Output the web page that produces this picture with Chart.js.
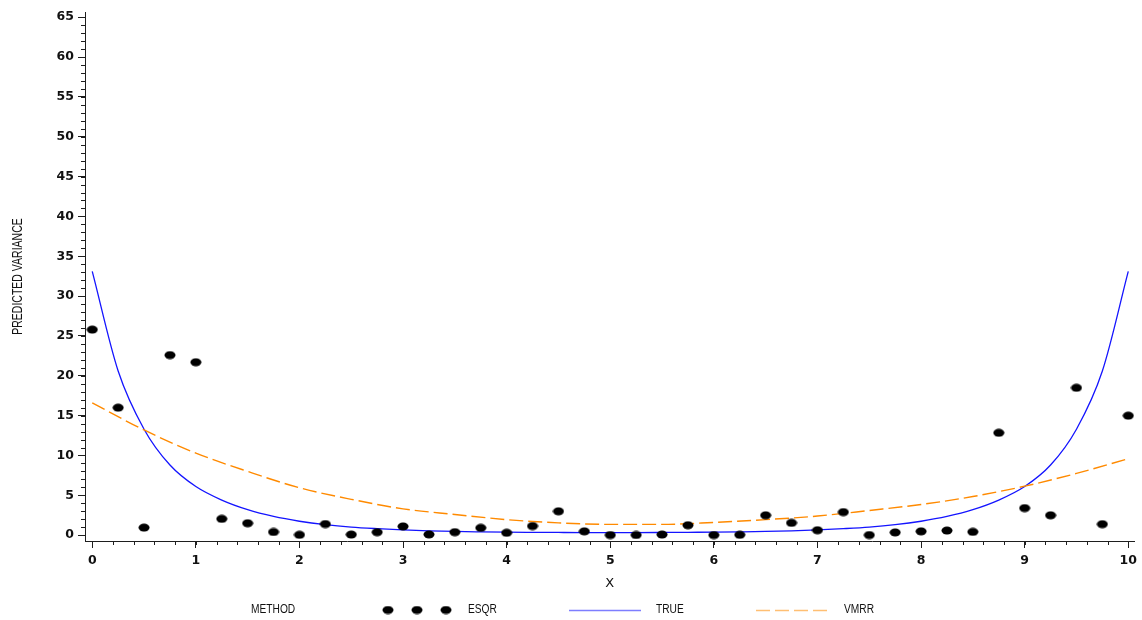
<!DOCTYPE html>
<html>
<head>
<meta charset="utf-8">
<title>Predicted variance by method</title>
<script src="https://cdn.jsdelivr.net/npm/chart.js@4.4.1/dist/chart.umd.min.js"></script>
<style>
  html, body { margin: 0; padding: 0; background: #ffffff; }
  #wrap { width: 1142px; height: 620px; }
</style>
</head>
<body>
<div id="wrap"><canvas id="c" width="1142" height="620"></canvas></div>
<script>
// ---- data ----
const esqrX = [0, 0.25, 0.5, 0.75, 1, 1.25, 1.5, 1.75, 2, 2.25, 2.5, 2.75, 3, 3.25, 3.5, 3.75, 4, 4.25, 4.5, 4.75,
               5, 5.25, 5.5, 5.75, 6, 6.25, 6.5, 6.75, 7, 7.25, 7.5, 7.75, 8, 8.25, 8.5, 8.75, 9, 9.25, 9.5, 9.75, 10];
const esqrY = [25.8, 16.0, 0.95, 22.6, 21.7, 2.05, 1.5, 0.4, 0.05, 1.4, 0.08, 0.38, 1.1, 0.1, 0.38, 0.92, 0.3, 1.15, 3.0, 0.48,
               0.02, 0.03, 0.08, 1.25, 0.02, 0.05, 2.5, 1.55, 0.62, 2.9, 0.02, 0.35, 0.48, 0.58, 0.42, 12.85, 3.4, 2.5, 18.5, 1.38, 15.0];

const trueX = esqrX;
const trueY = [33.1, 20.6, 13.3, 8.8, 6.1, 4.4, 3.2, 2.35, 1.75, 1.32, 1.02, 0.82, 0.66, 0.55, 0.47, 0.42, 0.38, 0.36, 0.34, 0.33,
               0.33, 0.33, 0.34, 0.36, 0.38, 0.42, 0.47, 0.55, 0.66, 0.82, 1.02, 1.32, 1.75, 2.35, 3.2, 4.4, 6.1, 8.8, 13.3, 20.6, 33.1];

const vmrrX = [0, 0.5, 1, 1.5, 2, 2.5, 3, 3.5, 4, 4.5, 5, 5.5, 6, 6.5, 7, 7.5, 8, 8.5, 9, 9.5, 10];
const vmrrY = [16.6, 13.2, 10.3, 8.0, 5.95, 4.5, 3.3, 2.6, 1.95, 1.55, 1.35, 1.35, 1.6, 1.95, 2.4, 3.1, 3.85, 4.85, 6.15, 7.75, 9.6];

const xTickValues = [0, 1, 2, 3, 4, 5, 6, 7, 8, 9, 10];
const yTickValues = [0, 5, 10, 15, 20, 25, 30, 35, 40, 45, 50, 55, 60, 65];
const xMinorStep = 0.2;
const yMinorStep = 1;

const seriesNames = ['ESQR', 'TRUE', 'VMRR'];
const legendTitle = 'METHOD';
const xTitle = 'X';
const yTitle = 'PREDICTED VARIANCE';

// ---- styles ----
const AXIS = '#1e1e1e';
const TEXT = '#111111';
const BLUE = '#1414ff';
const ORANGE = '#ff8a00';
const DASH = [14, 5];
const tickFont = { family: '"DejaVu Sans", Verdana, sans-serif', size: 12.5, weight: 'bold' };
const narrowFamily = '"Liberation Sans", Arial, sans-serif';

// filled oval marker
function ovalMarker() {
  const c = document.createElement('canvas');
  c.width = 12; c.height = 9;
  const g = c.getContext('2d');
  g.fillStyle = '#000';
  g.beginPath();
  g.ellipse(6, 4.5, 5.5, 4, 0, 0, Math.PI * 2);
  g.fill();
  return c;
}
const marker = ovalMarker();

const pairs = (xs, ys) => xs.map((x, i) => ({ x: x, y: ys[i] }));

// text squeezed along its baseline, giving a condensed face
function condensedText(ctx, text, x, y, size, squeeze, rotate, align) {
  ctx.save();
  ctx.translate(x, y);
  if (rotate) ctx.rotate(-Math.PI / 2);
  ctx.scale(squeeze, 1);
  ctx.font = size + 'px ' + narrowFamily;
  ctx.fillStyle = TEXT;
  ctx.textAlign = align;
  ctx.textBaseline = 'middle';
  ctx.fillText(text, 0, 0);
  ctx.restore();
}

// minor tick marks along both axes
const minorTicks = {
  id: 'minorTicks',
  afterDraw(chart) {
    const { ctx, scales: { x, y } } = chart;
    ctx.save();
    ctx.strokeStyle = AXIS;
    ctx.lineWidth = 1;
    ctx.beginPath();
    const x0 = Math.ceil(x.min / xMinorStep);
    const x1 = Math.floor(x.max / xMinorStep);
    for (let k = x0; k <= x1; k++) {
      const px = Math.round(x.getPixelForValue(k * xMinorStep)) + 0.5;
      ctx.moveTo(px, x.top);
      ctx.lineTo(px, x.top + 4);
    }
    const y0 = Math.ceil(y.min / yMinorStep);
    const y1 = Math.floor(y.max / yMinorStep);
    for (let k = y0; k <= y1; k++) {
      const py = Math.round(y.getPixelForValue(k * yMinorStep)) + 0.5;
      ctx.moveTo(y.right, py);
      ctx.lineTo(y.right - 4, py);
    }
    ctx.stroke();
    ctx.restore();
  }
};

// vertical axis title in a condensed face
const yAxisTitle = {
  id: 'yAxisTitle',
  afterDraw(chart) {
    const { ctx, chartArea } = chart;
    condensedText(ctx, yTitle, 18, (chartArea.top + chartArea.bottom) / 2, 14, 0.75, true, 'center');
  }
};

// bottom legend row: METHOD, marker triple, solid line, dashed line
const methodLegend = {
  id: 'methodLegend',
  afterDraw(chart) {
    const { ctx } = chart;
    const ds = chart.data.datasets;
    const cy = 610;
    condensedText(ctx, legendTitle, 251, cy, 12, 0.85, false, 'left');

    [388, 417, 446].forEach(px => ctx.drawImage(marker, px - 6, cy - 4.5));
    condensedText(ctx, ds[0].label, 468, cy, 12, 0.85, false, 'left');

    ctx.save();
    ctx.globalAlpha = 0.55;
    ctx.strokeStyle = ds[1].borderColor;
    ctx.lineWidth = 1.5;
    ctx.beginPath();
    ctx.moveTo(569, cy + 0.5);
    ctx.lineTo(641, cy + 0.5);
    ctx.stroke();

    ctx.strokeStyle = ds[2].borderColor;
    ctx.setLineDash(ds[2].borderDash);
    ctx.beginPath();
    ctx.moveTo(756, cy + 0.5);
    ctx.lineTo(831, cy + 0.5);
    ctx.stroke();
    ctx.restore();

    condensedText(ctx, ds[1].label, 656, cy, 12, 0.85, false, 'left');
    condensedText(ctx, ds[2].label, 844, cy, 12, 0.85, false, 'left');
  }
};

new Chart(document.getElementById('c'), {
  type: 'scatter',
  data: {
    datasets: [
      {
        label: seriesNames[0],
        data: pairs(esqrX, esqrY),
        showLine: false,
        pointStyle: marker,
        pointRadius: 5,
        order: 0
      },
      {
        label: seriesNames[1],
        data: pairs(trueX, trueY),
        showLine: true,
        borderColor: BLUE,
        borderWidth: 1.3,
        pointRadius: 0,
        cubicInterpolationMode: 'monotone',
        order: 2
      },
      {
        label: seriesNames[2],
        data: pairs(vmrrX, vmrrY),
        showLine: true,
        borderColor: ORANGE,
        borderWidth: 1.4,
        borderDash: DASH,
        pointRadius: 0,
        cubicInterpolationMode: 'monotone',
        order: 1
      }
    ]
  },
  options: {
    responsive: false,
    animation: false,
    devicePixelRatio: 1,
    layout: { padding: { top: 12, right: 6, left: 0, bottom: 0 } },
    plugins: {
      legend: { display: false },
      tooltip: { enabled: false }
    },
    scales: {
      x: {
        type: 'linear',
        position: 'bottom',
        min: -0.07,
        max: 10.06,
        afterBuildTicks: s => { s.ticks = xTickValues.map(v => ({ value: v })); },
        afterFit: s => { s.height = 79; },
        grid: { drawOnChartArea: false, drawTicks: true, tickLength: 7, color: AXIS, tickColor: AXIS },
        border: { display: true, color: AXIS, width: 1 },
        ticks: { color: TEXT, font: tickFont, padding: 5, maxRotation: 0, autoSkip: false },
        title: {
          display: true,
          text: xTitle,
          color: TEXT,
          font: { family: '"DejaVu Sans", Verdana, sans-serif', size: 13 },
          padding: { top: 0, bottom: 29 }
        }
      },
      y: {
        type: 'linear',
        position: 'left',
        min: -0.73,
        max: 65.65,
        afterBuildTicks: s => { s.ticks = yTickValues.map(v => ({ value: v })); },
        afterFit: s => { s.width = 85; },
        grid: { drawOnChartArea: false, drawTicks: true, tickLength: 7, color: AXIS, tickColor: AXIS },
        border: { display: true, color: AXIS, width: 1 },
        ticks: { color: TEXT, font: tickFont, padding: 4, autoSkip: false },
        title: { display: false }
      }
    }
  },
  plugins: [minorTicks, yAxisTitle, methodLegend]
});
</script>
</body>
</html>
